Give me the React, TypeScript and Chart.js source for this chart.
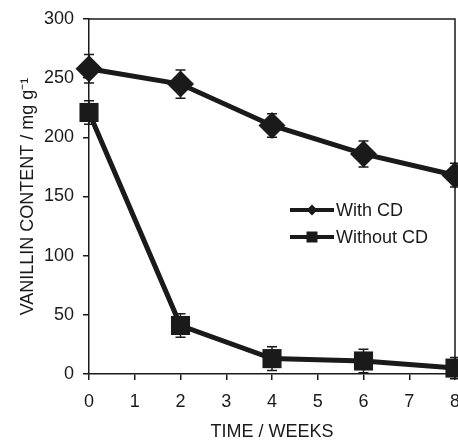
import React, { useEffect, useRef } from "react";
import { Chart, registerables } from "chart.js";

Chart.register(...registerables);

const weeks = [0, 2, 4, 6, 8];
const withCD = [258, 245, 210, 186, 168];
const withCDErr = [12, 12, 10, 11, 10];
const withoutCD = [221, 41, 13, 11, 5];
const withoutCDErr = [10, 10, 10, 10, 9];
const seriesLabels = ["With CD", "Without CD"];
const xTitle = "TIME / WEEKS";
const yTitle = "VANILLIN CONTENT / mg g\u207B\u00B9";

const FONT = "'Liberation Sans', Arial, sans-serif";
const INK = "#1a1a1a";

const errorBarPlugin = {
  id: "errorBars",
  beforeDatasetsDraw(chart: any) {
    const ctx = chart.ctx;
    const xs = chart.scales.x;
    const ys = chart.scales.y;
    const errs = [withCDErr, withoutCDErr];
    ctx.save();
    ctx.strokeStyle = INK;
    ctx.lineWidth = 1.5;
    chart.data.datasets.forEach((ds: any, i: number) => {
      ds.data.forEach((p: any, j: number) => {
        const e = errs[i][j];
        const x = xs.getPixelForValue(p.x);
        const yt = ys.getPixelForValue(p.y + e);
        const yb = ys.getPixelForValue(p.y - e);
        ctx.beginPath();
        ctx.moveTo(x, yt);
        ctx.lineTo(x, yb);
        ctx.moveTo(x - 5, yt);
        ctx.lineTo(x + 5, yt);
        ctx.moveTo(x - 5, yb);
        ctx.lineTo(x + 5, yb);
        ctx.stroke();
      });
    });
    ctx.restore();
  },
  afterDraw(chart: any) {
    const ctx = chart.ctx;
    const a = chart.chartArea;
    ctx.save();
    ctx.strokeStyle = INK;
    ctx.lineWidth = 1.5;
    ctx.beginPath();
    ctx.moveTo(a.left, a.top);
    ctx.lineTo(a.right, a.top);
    ctx.lineTo(a.right, a.bottom);
    ctx.stroke();

    // legend
    const rows = [
      { y: 210, style: "diamond" },
      { y: 237, style: "square" },
    ];
    rows.forEach((r, i) => {
      ctx.strokeStyle = INK;
      ctx.fillStyle = INK;
      ctx.lineWidth = 4;
      ctx.beginPath();
      ctx.moveTo(290, r.y);
      ctx.lineTo(334, r.y);
      ctx.stroke();
      ctx.beginPath();
      if (r.style === "diamond") {
        ctx.moveTo(312 - 5.5, r.y);
        ctx.lineTo(312, r.y - 5.5);
        ctx.lineTo(312 + 5.5, r.y);
        ctx.lineTo(312, r.y + 5.5);
        ctx.closePath();
      } else {
        ctx.rect(312 - 5.5, r.y - 5.5, 11, 11);
      }
      ctx.fill();
      ctx.font = `18px ${FONT}`;
      ctx.textBaseline = "middle";
      ctx.textAlign = "left";
      ctx.fillText(seriesLabels[i], 336, r.y + 1);
    });
    ctx.restore();
  },
};

export default function App() {
  const ref = useRef<HTMLCanvasElement | null>(null);
  useEffect(() => {
    if (!ref.current) return;
    const chart = new Chart(ref.current, {
      type: "line",
      data: {
        datasets: [
          {
            label: seriesLabels[0],
            data: weeks.map((w, i) => ({ x: w, y: withCD[i] })),
            borderColor: INK,
            backgroundColor: INK,
            borderWidth: 5,
            pointStyle: "rectRot",
            pointRadius: 13.5,
            pointBorderWidth: 0,
            clip: false,
          },
          {
            label: seriesLabels[1],
            data: weeks.map((w, i) => ({ x: w, y: withoutCD[i] })),
            borderColor: INK,
            backgroundColor: INK,
            borderWidth: 5,
            pointStyle: "rect",
            pointRadius: 13.5,
            pointBorderWidth: 0,
            clip: false,
          },
        ],
      },
      options: {
        animation: false,
        responsive: false,
        layout: { autoPadding: false, padding: { top: 19, right: 3, left: 0, bottom: 0 } },
        plugins: {
          legend: { display: false },
          tooltip: { enabled: false },
        },
        scales: {
          x: {
            type: "linear",
            min: 0,
            max: 8,
            ticks: {
              stepSize: 1,
              color: INK,
              font: { family: FONT, size: 18 },
              padding: 11,
              maxRotation: 0,
            },
            grid: {
              drawOnChartArea: false,
              drawTicks: true,
              tickLength: 6,
              color: INK,
              lineWidth: 1.5,
            },
            border: { display: true, color: INK, width: 1.5 },
            title: {
              display: true,
              text: xTitle,
              color: INK,
              font: { family: FONT, size: 18, lineHeight: 1 },
              padding: { top: 0, bottom: 0 },
            },
            afterFit: (s: any) => {
              s.height = 67;
              s.paddingLeft = 0;
              s.paddingRight = 0;
            },
          },
          y: {
            min: 0,
            max: 300,
            ticks: {
              stepSize: 50,
              color: INK,
              font: { family: FONT, size: 18 },
              padding: 9,
            },
            grid: {
              drawOnChartArea: false,
              drawTicks: true,
              tickLength: 6,
              color: INK,
              lineWidth: 1.5,
            },
            border: { display: true, color: INK, width: 1.5 },
            title: {
              display: true,
              text: yTitle,
              color: INK,
              font: { family: FONT, size: 18, lineHeight: 1 },
              padding: { top: 19, bottom: 0 },
            },
            afterFit: (s: any) => {
              s.width = 89;
              s.paddingTop = 0;
              s.paddingBottom = 0;
            },
          },
        },
      },
      plugins: [errorBarPlugin],
    });
    return () => chart.destroy();
  }, []);
  return (
    <div style={{ position: "fixed", left: 0, top: 0, width: 458, height: 441, background: "#fff" }}>
      <canvas ref={ref} width={458} height={441} style={{ display: "block" }} />
    </div>
  );
}
